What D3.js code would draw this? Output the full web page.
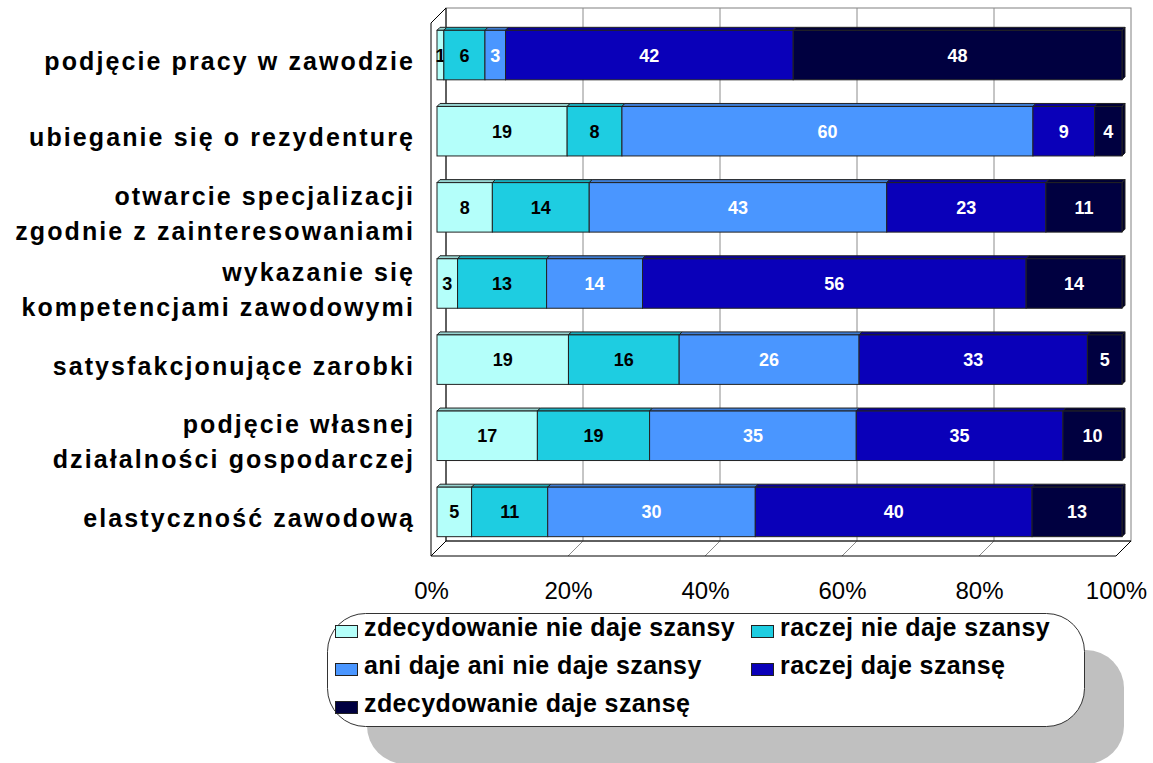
<!DOCTYPE html>
<html>
<head>
<meta charset="utf-8">
<script src="https://cdn.jsdelivr.net/npm/d3@7"></script>
<style>
  body { margin: 0; background: #fff; }
  svg { display: block; font-family: "Liberation Sans", Arial, sans-serif; }
</style>
</head>
<body>
<div id="viz"></div>
<script>
const categories = [
  ["podjęcie pracy w zawodzie"],
  ["ubieganie się o rezydenturę"],
  ["otwarcie specjalizacji", "zgodnie z zainteresowaniami"],
  ["wykazanie się", "kompetencjami zawodowymi"],
  ["satysfakcjonujące zarobki"],
  ["podjęcie własnej", "działalności gospodarczej"],
  ["elastyczność zawodową"]
];
const seriesNames = [
  "zdecydowanie nie daje szansy",
  "raczej nie daje szansy",
  "ani daje ani nie daje szansy",
  "raczej daje szansę",
  "zdecydowanie daje szansę"
];
const zdecydowanieNie = [1, 19, 8, 3, 19, 17, 5];
const raczejNie = [6, 8, 14, 13, 16, 19, 11];
const aniAni = [3, 60, 43, 14, 26, 35, 30];
const raczejTak = [42, 9, 23, 56, 33, 35, 40];
const zdecydowanieTak = [48, 4, 11, 14, 5, 10, 13];
const ticks = [0, 0.2, 0.4, 0.6, 0.8, 1];

const colors = ["#B4FFFA", "#1ECDE1", "#4A96FF", "#0A00B9", "#000040"];
const labelColors = ["#000", "#000", "#fff", "#fff", "#fff"];

const rows = categories.map((c, i) => ({
  i: i,
  s0: zdecydowanieNie[i], s1: raczejNie[i], s2: aniAni[i], s3: raczejTak[i], s4: zdecydowanieTak[i]
}));
const keys = ["s0", "s1", "s2", "s3", "s4"];
const stacked = d3.stack().keys(keys).offset(d3.stackOffsetExpand)(rows);

const W = 1153, H = 763;
const depth = 15;      // depth of the 3D box
const barOff = 6;      // front face of the bars sits this deep
const barDepth = 3;
const wallTop = 8, wallBottom = 541;

const svg = d3.select("#viz").append("svg")
  .attr("width", W)
  .attr("height", H);

// front plane scales
const x = d3.scaleLinear().domain([0, 1]).range([431, 1116]);
const y = d3.scaleBand()
  .domain(d3.range(categories.length))
  .range([wallTop + depth, wallBottom + depth])
  .paddingInner(0.35)
  .paddingOuter(0.175);

// back wall
svg.append("rect")
  .attr("x", x(0) + depth).attr("y", wallTop)
  .attr("width", x(1) - x(0)).attr("height", wallBottom - wallTop)
  .attr("fill", "#fff").attr("stroke", "#808080");

// gridlines on back wall and floor
const grid = svg.append("g").attr("stroke", "#8c8c8c").attr("fill", "none");
ticks.filter(t => t > 0 && t < 1).forEach(t => {
  grid.append("line")
    .attr("x1", x(t) + depth).attr("x2", x(t) + depth)
    .attr("y1", wallTop).attr("y2", wallBottom);
  grid.append("line")
    .attr("x1", x(t) + depth).attr("y1", wallBottom)
    .attr("x2", x(t)).attr("y2", wallBottom + depth);
});

// left wall and floor outline
const frame = svg.append("g").attr("stroke", "#000").attr("fill", "none").attr("stroke-width", 1);
frame.append("path")
  .attr("d", `M${x(0)},${wallTop + depth}L${x(0) + depth},${wallTop}L${x(0) + depth},${wallBottom}L${x(0)},${wallBottom + depth}Z`);
frame.append("path")
  .attr("d", `M${x(0) + depth},${wallBottom}L${x(1) + depth},${wallBottom}L${x(1)},${wallBottom + depth}L${x(0)},${wallBottom + depth}`);

// bars
const bars = svg.append("g");
stacked.forEach((layer, k) => {
  const col = colors[k];
  layer.forEach((d, i) => {
    const x0 = x(d[0]) + barOff, x1 = x(d[1]) + barOff;
    const y0 = y(i) - barOff, y1 = y0 + y.bandwidth();
    const g = bars.append("g").attr("stroke", "#222").attr("stroke-width", 1);
    g.append("path")
      .attr("d", `M${x0},${y0}L${x0 + barDepth},${y0 - barDepth}L${x1 + barDepth},${y0 - barDepth}L${x1},${y0}Z`)
      .attr("fill", d3.color(col).darker(0.5));
    if (k === keys.length - 1) {
      g.append("path")
        .attr("d", `M${x1},${y0}L${x1 + barDepth},${y0 - barDepth}L${x1 + barDepth},${y1 - barDepth}L${x1},${y1}Z`)
        .attr("fill", d3.color(col).darker(1));
    }
    g.append("rect")
      .attr("x", x0).attr("y", y0)
      .attr("width", x1 - x0).attr("height", y.bandwidth())
      .attr("fill", col);
    bars.append("text")
      .attr("x", (x0 + x1) / 2)
      .attr("y", (y0 + y1) / 2 + 6.5)
      .attr("text-anchor", "middle")
      .attr("font-size", 18).attr("font-weight", "bold")
      .attr("fill", labelColors[k])
      .text(rows[i]["s" + k]);
  });
});

// category labels
const cat = svg.append("g")
  .attr("font-size", 25).attr("font-weight", "bold")
  .attr("letter-spacing", "2.1px")
  .attr("text-anchor", "end");
categories.forEach((lines, i) => {
  const cy = y(i) + y.bandwidth() / 2;
  lines.forEach((ln, j) => {
    const off = lines.length === 1 ? 0 : (j === 0 ? -17.5 : 17.5);
    cat.append("text")
      .attr("x", 415)
      .attr("y", cy + off + 9)
      .text(ln);
  });
});

// x axis labels
const xAxis = svg.append("g")
  .attr("transform", `translate(0,${wallBottom + depth})`)
  .call(d3.axisBottom(x).tickValues(ticks).tickFormat(d3.format(".0%")).tickSize(0).tickPadding(26));
xAxis.select(".domain").remove();
xAxis.selectAll("text")
  .attr("font-size", 24)
  .attr("font-family", "'Liberation Sans', Arial, sans-serif")
  .attr("fill", "#000");

// legend
const lg = svg.append("g");
lg.append("rect")
  .attr("x", 367).attr("y", 650).attr("width", 757).attr("height", 114)
  .attr("rx", 38).attr("fill", "#c0c0c0");
lg.append("rect")
  .attr("x", 327.5).attr("y", 613.5).attr("width", 757).attr("height", 113)
  .attr("rx", 38).attr("fill", "#fff").attr("stroke", "#333");

const legX = [335, 751];
const legY = [631, 669, 707];
seriesNames.forEach((name, k) => {
  const cx = legX[k % 2], cy = legY[Math.floor(k / 2)];
  lg.append("rect")
    .attr("x", cx + 0.5).attr("y", cy - 6 + 0.5)
    .attr("width", 22).attr("height", 12)
    .attr("fill", colors[k]).attr("stroke", "#222");
  lg.append("text")
    .attr("x", cx + 29).attr("y", cy + 5)
    .attr("font-size", 25).attr("font-weight", "bold")
    .attr("letter-spacing", "0.4px")
    .text(name);
});
</script>
</body>
</html>
